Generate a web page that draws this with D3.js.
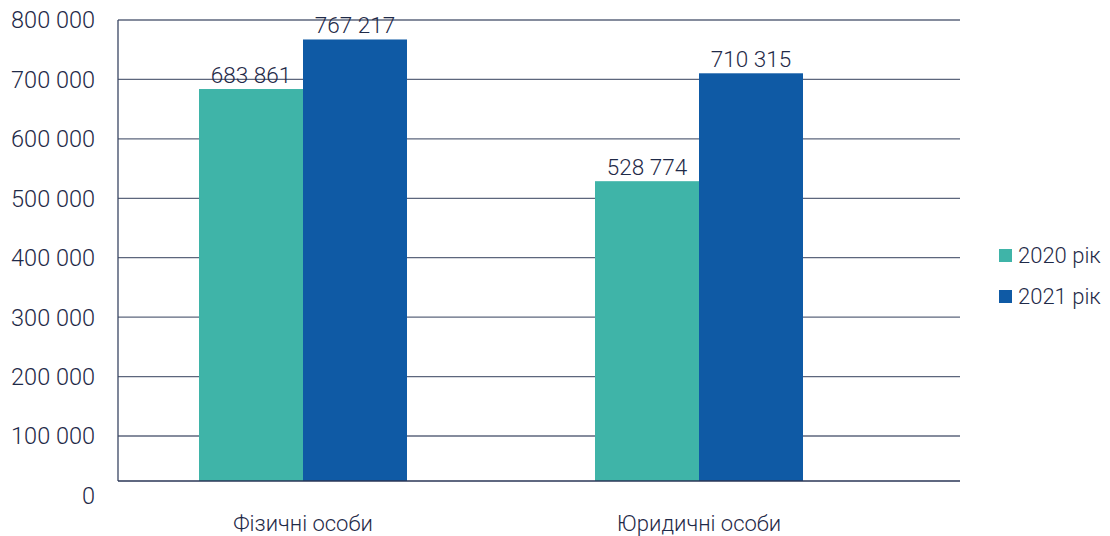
<!DOCTYPE html>
<html><head><meta charset="utf-8">
<script src="https://cdn.jsdelivr.net/npm/d3@7"></script>
<style>
html,body{margin:0;padding:0;background:#fff;}
text{font-family:"Roboto","Open Sans",sans-serif;font-weight:300;fill:#1f2a48;}
</style></head><body>
<svg id="c" width="1110" height="536"></svg>
<script>
const categories = ["Фізичні особи", "Юридичні особи"];
const years = ["2020 рік", "2021 рік"];
const values2020 = [683861, 528774];
const values2021 = [767217, 710315];
const yTicks = [0, 100000, 200000, 300000, 400000, 500000, 600000, 700000, 800000];
const colors = ["#3fb4a8", "#0f5aa5"];

const series = [values2020, values2021];
const svg = d3.select("#c");
const left = 118, right = 960, baseY = 481;

const y = d3.scaleLinear().domain([100000, 800000]).range([436, 20]);
const x0 = d3.scaleBand().domain(categories).range([105, 897]).padding(0);
const x1 = d3.scaleBand().domain(years).range([94, 302]).padding(0);

const fmt = v => d3.format(",")(v).replace(/,/g, " ");

// gridlines
svg.append("g").selectAll("line").data(yTicks.filter(d => d > 0)).join("line")
  .attr("x1", left).attr("x2", right)
  .attr("y1", d => y(d)).attr("y2", d => y(d))
  .attr("stroke", "#5d667c").attr("stroke-width", 1.3);

// y tick labels
svg.append("g").selectAll("text").data(yTicks).join("text")
  .attr("x", 95).attr("y", d => y(d)).attr("dy", "0.36em")
  .attr("text-anchor", "end").attr("font-size", 23.5)
  .text(d => fmt(d));

// bars
const g = svg.append("g");
categories.forEach((c, i) => {
  years.forEach((yr, j) => {
    const v = series[j][i];
    g.append("rect")
      .attr("x", x0(c) + x1(yr)).attr("width", x1.bandwidth())
      .attr("y", y(v)).attr("height", baseY - y(v))
      .attr("fill", colors[j]);
    g.append("text")
      .attr("x", x0(c) + x1(yr) + x1.bandwidth() / 2)
      .attr("y", y(v) - 6)
      .attr("text-anchor", "middle").attr("font-size", 22.5)
      .text(fmt(v));
  });
});

// left and bottom axis lines
svg.append("line").attr("x1", left).attr("x2", left).attr("y1", 20).attr("y2", baseY)
  .attr("stroke", "#3a4663").attr("stroke-width", 1.3);
svg.append("line").attr("x1", left).attr("x2", right).attr("y1", baseY).attr("y2", baseY)
  .attr("stroke", "#2a3656").attr("stroke-width", 1.5);

// category labels
svg.append("g").selectAll("text").data(categories).join("text")
  .attr("x", d => x0(d) + x0.bandwidth() / 2).attr("y", 531)
  .attr("text-anchor", "middle").attr("font-size", 22)
  .text(d => d);

// legend
const lg = svg.append("g").selectAll("g").data(years).join("g")
  .attr("transform", (d, i) => `translate(999, ${249 + i * 41})`);
lg.append("rect").attr("width", 13).attr("height", 13).attr("fill", (d, i) => colors[i]);
lg.append("text").attr("x", 19).attr("y", 6.5).attr("dy", "0.36em").attr("font-size", 22).text(d => d);
</script>
</body></html>
